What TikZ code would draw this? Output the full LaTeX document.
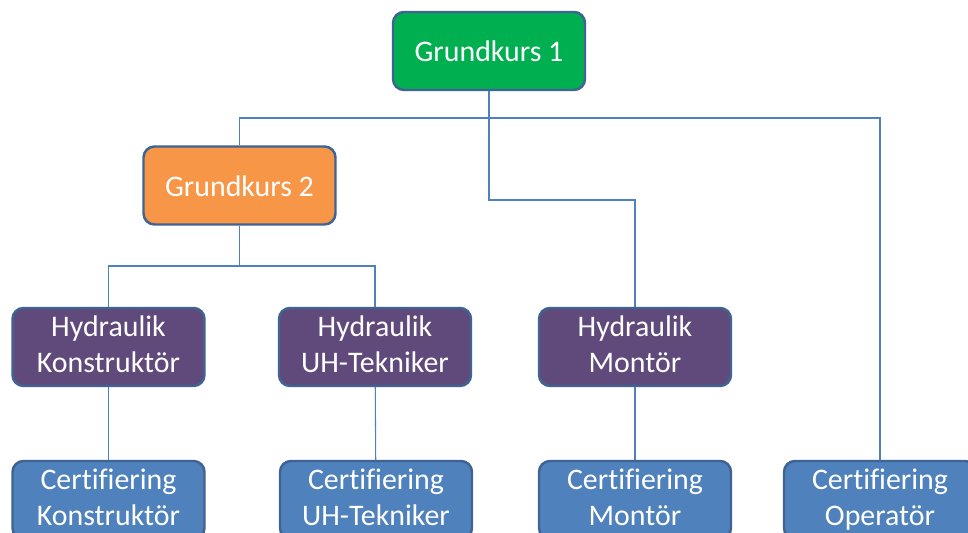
\documentclass[tikz,border=0pt]{standalone}
\usepackage{fontspec}
\setmainfont{Carlito}[Ligatures=NoCommon]
\usetikzlibrary{positioning}
\definecolor{kursgreen}{HTML}{00B050}
\definecolor{kursorange}{HTML}{F79646}
\definecolor{kurspurple}{HTML}{604A7B}
\definecolor{kursblue}{HTML}{4F81BD}
\definecolor{kursborder}{HTML}{3F6393}
\definecolor{linkblue}{HTML}{4F81BD}
\newcommand\kstrut{\rule[-3pt]{0pt}{18pt}}
\tikzset{
  kurs/.style={draw=kursborder, line width=1.4pt, rounded corners=0.22cm,
    minimum width=3.84cm, minimum height=1.56cm, inner sep=0pt,
    text=white, align=center, font=\fontsize{17}{20.6}\selectfont,
    execute at begin node=\kstrut, execute at end node=\kstrut},
  link/.style={draw=linkblue, line width=0.6pt}
}
\begin{document}
\begin{tikzpicture}
\useasboundingbox (0,0) rectangle (19.36,10.66);
\coordinate (topbar) at (0,8.30);
\coordinate (midbar) at (0,6.66);
\coordinate (lowbar) at (0,5.34);
% levels
\node[kurs,fill=kursgreen] (g1) at (9.78,9.64) {Grundkurs 1};
\node[kurs,fill=kursorange] (g2) at (4.79,6.95) {Grundkurs 2};
\node[kurs,fill=kurspurple] (hk) at (2.17,3.72) {Hydraulik\\Konstruktör};
\node[kurs,fill=kurspurple] (hu) at (7.50,3.72) {Hydraulik\\UH-Tekniker};
\node[kurs,fill=kurspurple] (hm) at (12.70,3.72) {Hydraulik\\Montör};
\node[kurs,fill=kursblue] (ck) at (2.17,0.66) {Certifiering\\Konstruktör};
\node[kurs,fill=kursblue] (cu) at (7.52,0.66) {Certifiering\\UH-Tekniker};
\node[kurs,fill=kursblue] (cm) at (12.70,0.66) {Certifiering\\Montör};
\node[kurs,fill=kursblue] (co) at (17.60,0.66) {Certifiering\\Operatör};
% connectors
\draw[link] (g2.north) |- (co.north |- topbar) -- (co.north);
\draw[link] (g1.south) |- (hm.north |- midbar) -- (hm.north);
\draw[link] (g2.south) -- (g2.south |- lowbar);
\draw[link] (hk.north) |- (hu.north |- lowbar) -- (hu.north);
\draw[link] (hk) -- (ck);
\draw[link] (hu) -- (cu);
\draw[link] (hm) -- (cm);
\end{tikzpicture}
\end{document}
